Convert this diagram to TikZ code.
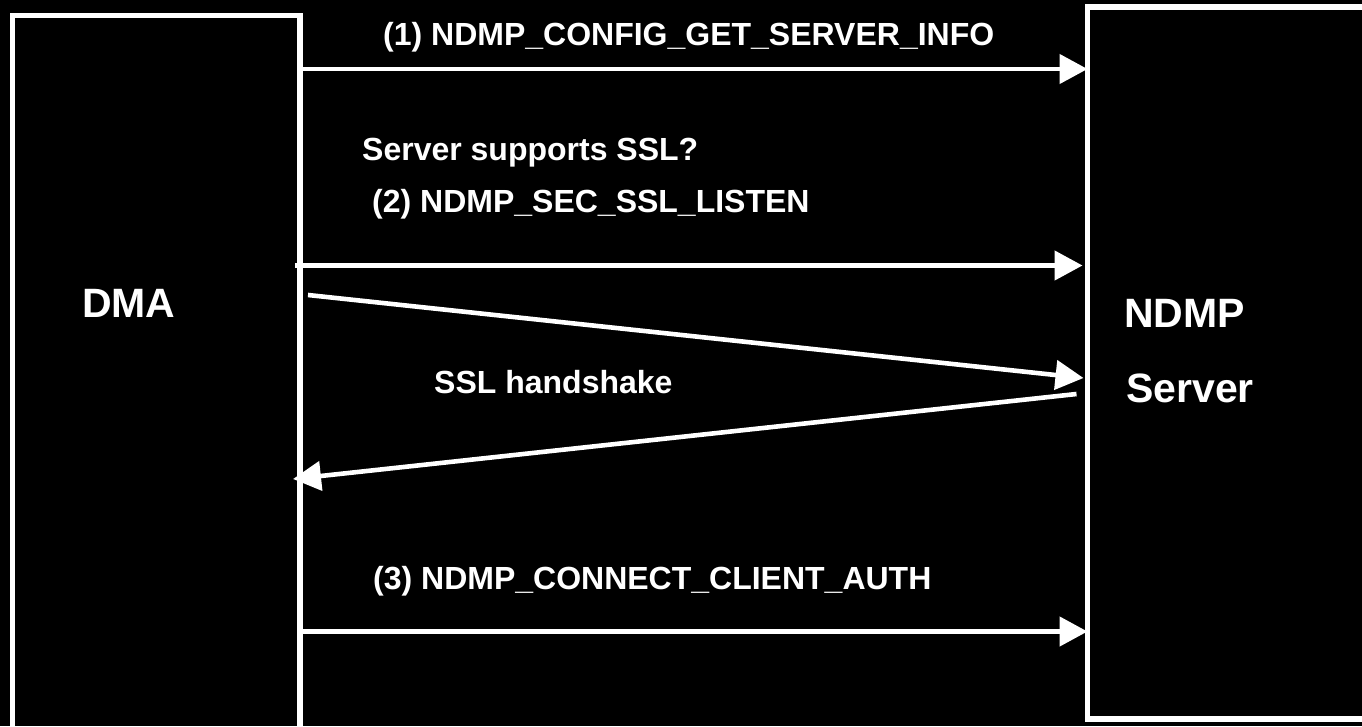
\documentclass[tikz,border=0pt]{standalone}
\usepackage{fontspec}
\setmainfont{Liberation Sans}
\usetikzlibrary{positioning, arrows.meta}

\begin{document}
\begin{tikzpicture}[
    x=1pt, y=-1pt,
    host/.style={draw=white, line width=5.5pt, rectangle, inner sep=0pt, outer sep=0pt, anchor=north west},
    arrow/.style={-{Triangle[length=28pt, width=29pt]}, draw=white, line width=4.6pt},
    lbl/.style={text=white, inner sep=0pt, anchor=base west, font=\bfseries\fontsize{32}{36}\selectfont},
    title/.style={lbl, font=\bfseries\fontsize{41}{46}\selectfont}
]

% Canvas
\fill[black] (0,0) rectangle (1362,726);
\clip (0,0) rectangle (1362,726);

% Hosts
\node[host, minimum width=287.5pt, minimum height=760pt] (dma) at (12.5,15.5) {};
\node[host, minimum width=400pt, minimum height=712pt] (ndmp) at (1087.5,7) {};
\node[title] (dma_title) at (82,317) {DMA};
\node[title] (ndmp_title) at (1124,327) {NDMP};
\node[title] (srv_title) at (1126,402) {Server};

% Messages
\node[lbl] (msg_info) at (383,45) {(1) NDMP\_CONFIG\_GET\_SERVER\_INFO};
\node[lbl] (msg_query) at (362,160) {Server supports SSL?};
\node[lbl] (msg_listen) at (372,212) {(2) NDMP\_SEC\_SSL\_LISTEN};
\node[lbl] (msg_ssl) at (434,393) {SSL handshake};
\node[lbl] (msg_auth) at (373,589) {(3) NDMP\_CONNECT\_CLIENT\_AUTH};

\draw[arrow] (dma.east |- 0,69) -- (ndmp.west |- 0,69);
\draw[arrow] ([xshift=-5pt]dma.east |- 0,265.5) -- ([xshift=-5pt]ndmp.west |- 0,265.5);
\draw[arrow] ([xshift=8pt]dma.east |- 0,295) -- ([xshift=-4pt]ndmp.west |- 0,378);
\draw[arrow] ([xshift=-11pt]ndmp.west |- 0,394) -- ([xshift=-7pt]dma.east |- 0,479);
\draw[arrow] (dma.east |- 0,631.5) -- (ndmp.west |- 0,631.5);

\end{tikzpicture}
\end{document}
